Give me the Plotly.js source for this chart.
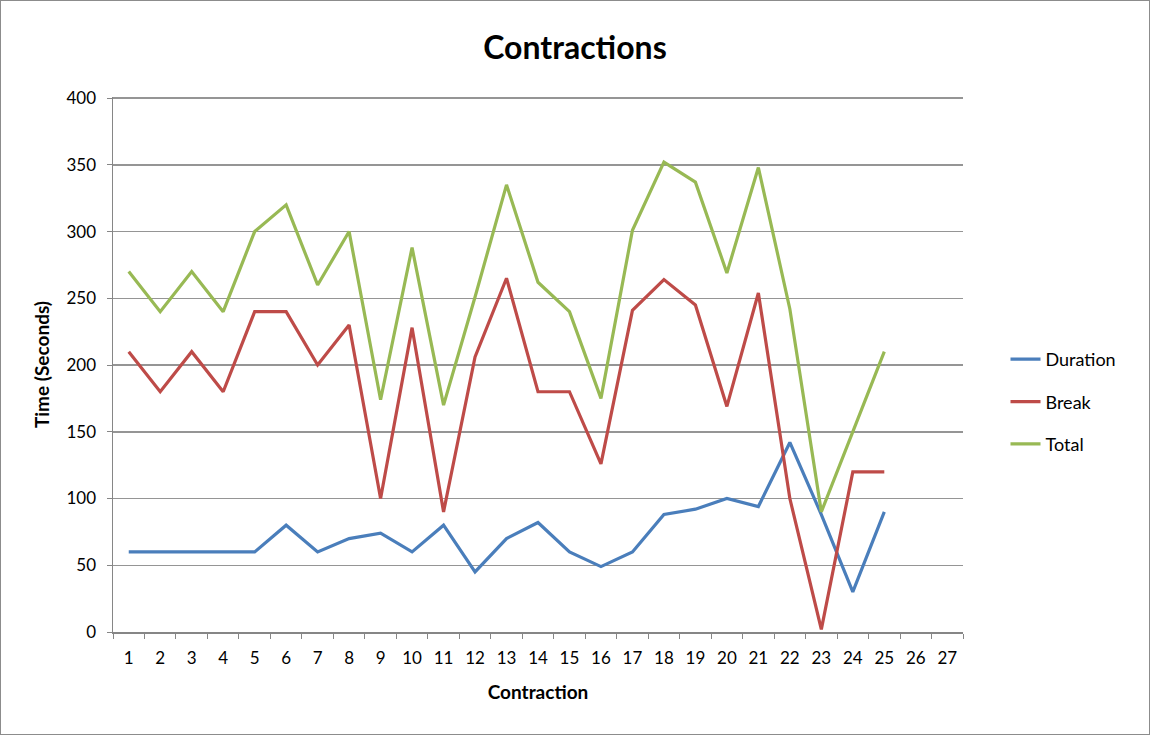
<!DOCTYPE html>
<html>
<head>
<meta charset="utf-8">
<script src="https://cdn.plot.ly/plotly-3.0.1.min.js"></script>
<style>
  body { margin: 0; background: #fff; }
  #chart { width: 1150px; height: 735px; box-sizing: border-box; border: 1px solid #8c8c8c; }
</style>
</head>
<body>
<div id="chart"></div>
<script>
// contraction numbers on the x axis (26 and 27 have no data)
const categories = ['1','2','3','4','5','6','7','8','9','10','11','12','13','14',
  '15','16','17','18','19','20','21','22','23','24','25','26','27'];
const contractions = categories.slice(0, 25);

// values, seconds
const duration = [60, 60, 60, 60, 60, 80, 60, 70, 74, 60, 80, 45, 70, 82, 60, 49, 60, 88, 92, 100, 94, 142, 88, 30, 90];
const breakTime = [210, 180, 210, 180, 240, 240, 200, 230, 100, 228, 90, 206, 265, 180, 180, 126, 241, 264, 245, 169, 254, 100, 2, 120, 120];
const total = [270, 240, 270, 240, 300, 320, 260, 300, 174, 288, 170, 251, 335, 262, 240, 175, 301, 352, 337, 269, 348, 242, 90, 150, 210];

const font = 'Lato, "Open Sans", sans-serif';

function series(name, y, color, group) {
  return {
    x: contractions,
    y: y,
    name: name,
    type: 'scatter',
    mode: 'lines',
    legendgroup: group,
    line: { color: color, width: 3.2 },
  };
}

const data = [
  series('Duration', duration, '#4a7ebb', 'a'),
  series('Break', breakTime, '#be4b48', 'b'),
  series('Total', total, '#98b954', 'c'),
];

const layout = {
  width: 1148,
  height: 733,
  margin: { l: 112, r: 186, t: 96, b: 102 },
  paper_bgcolor: '#fff',
  plot_bgcolor: '#fff',
  font: { family: font, size: 17, color: '#000' },
  title: {
    text: '<b>Contractions</b>',
    x: 0.5,
    xref: 'container',
    y: 0.952,
    yref: 'container',
    font: { family: font, size: 32, color: '#000' },
  },
  xaxis: {
    type: 'category',
    categoryorder: 'array',
    categoryarray: categories,
    range: [-0.5, 26.5],
    tickson: 'boundaries',
    ticks: 'outside',
    ticklen: 5,
    tickcolor: '#868686',
    ticklabelstandoff: 10,
    showgrid: false,
    showline: true,
    linecolor: '#868686',
    linewidth: 1.5,
    tickfont: { size: 17 },
    title: { text: '<b>Contraction</b>', font: { size: 19 }, standoff: 19 },
  },
  yaxis: {
    range: [0, 400.8],
    tickvals: [0, 50, 100, 150, 200, 250, 300, 350, 400],
    ticks: 'outside',
    ticklen: 5,
    tickcolor: '#868686',
    ticklabelstandoff: 7,
    showgrid: true,
    gridcolor: '#959595',
    gridwidth: 1.5,
    zeroline: false,
    showline: true,
    linecolor: '#868686',
    linewidth: 1.5,
    tickfont: { size: 17 },
    title: { text: '<b>Time (Seconds)</b>', font: { size: 19 }, standoff: 12 },
  },
  legend: {
    x: 1.05,
    xanchor: 'left',
    y: 0.43,
    yanchor: 'middle',
    font: { size: 18 },
    tracegroupgap: 16,
  },
  showlegend: true,
};

Plotly.newPlot('chart', data, layout, { staticPlot: true });
</script>
</body>
</html>
